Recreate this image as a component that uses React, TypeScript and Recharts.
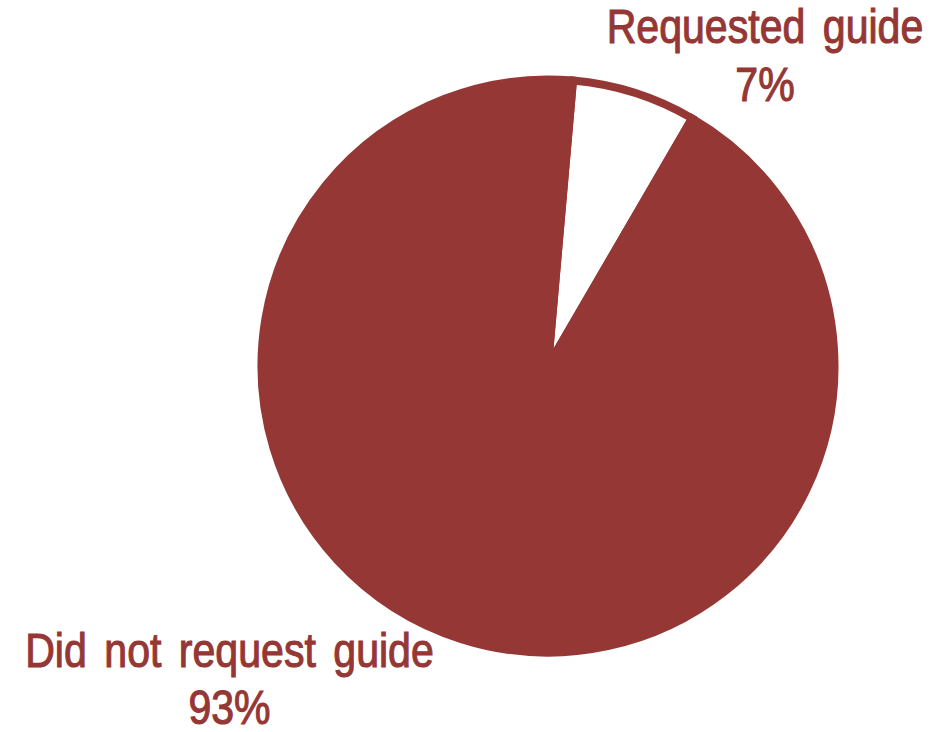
import { PieChart, Pie, Cell } from 'recharts'

const categories = ['Requested guide', 'Did not request guide']
const shares = [7, 93]

const data = categories.map((name, i) => ({ name, value: shares[i] }))

const red = '#953735'
const sliceColors = ['#ffffff', red]

// hand-placed label anchors, relative to the pie centre (as in the source deck)
const labelOffsets = [
  { dx: 217, dy: -322.7 },
  { dx: -318.5, dy: 300.7 },
]

// no narrow font installed, so squeeze Liberation Sans horizontally
const squeeze = 0.865

function renderLabel(props: any) {
  const { cx, cy, index, name, percent } = props
  const off = labelOffsets[index]
  const x = cx + off.dx
  const y = cy + off.dy
  return (
    <text
      x={x}
      y={y}
      fill={red}
      stroke={red}
      strokeWidth={1.1}
      textAnchor="middle"
      fontFamily='"Liberation Sans", Arial, sans-serif'
      fontSize={47.5}
      transform={`translate(${x} 0) scale(${squeeze} 1) translate(${-x} 0)`}
      style={{ wordSpacing: 7 }}
    >
      <tspan x={x} y={y}>{name}</tspan>
      <tspan x={x} y={y + 57.5}>{`${Math.round(percent * 100)}%`}</tspan>
    </text>
  )
}

export default function App() {
  return (
    <div style={{ position: 'absolute', left: 0, top: 0, background: '#fff' }}>
      <PieChart width={949} height={732} margin={{ top: 0, right: 0, bottom: 0, left: 0 }}>
        <Pie
          data={data}
          dataKey="value"
          nameKey="name"
          cx={548}
          cy={366}
          outerRadius={286.5}
          startAngle={85}
          endAngle={-275}
          stroke={red}
          strokeWidth={8}
          label={renderLabel}
          labelLine={false}
          isAnimationActive={false}
        >
          {data.map((entry, idx) => (
            <Cell key={entry.name} fill={sliceColors[idx]} stroke={red} strokeWidth={8} />
          ))}
        </Pie>
      </PieChart>
    </div>
  )
}
